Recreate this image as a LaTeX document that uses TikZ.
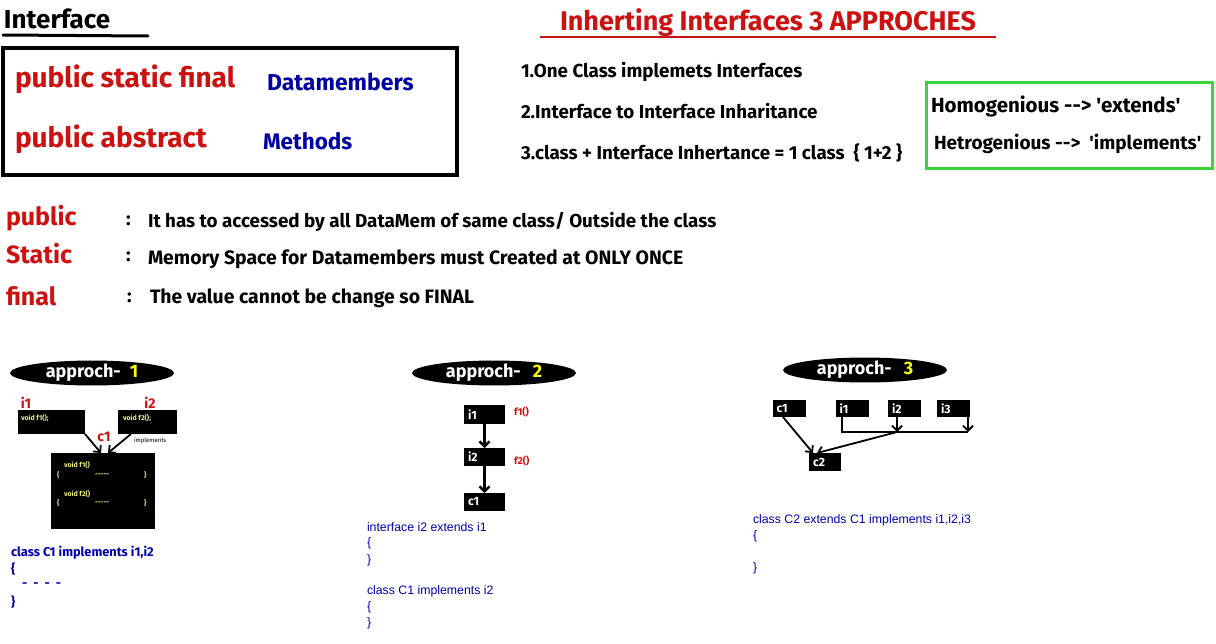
\documentclass[tikz,border=0pt]{standalone}
\usepackage{fontspec}
\setmainfont{Fira Sans}
\newfontfamily\arialf{Liberation Sans}
\usetikzlibrary{shapes.geometric,arrows.meta}
\definecolor{hred}{RGB}{204,17,17}
\definecolor{hblue}{RGB}{0,0,160}
\definecolor{cblue}{RGB}{0,0,170}
\definecolor{hgreen}{RGB}{60,210,60}
\definecolor{pyellow}{RGB}{240,240,130}
\definecolor{byellow}{RGB}{255,255,0}
\newcommand{\fsz}[1]{\fontsize{#1}{#1}\selectfont}
\newcommand{\arrw}{{-}{-}{>}}
\newcommand{\sq}{\textquotesingle}
\begin{document}
\begin{tikzpicture}[x=1pt,y=-1pt,
  every node/.style={inner sep=0pt, outer sep=0pt},
  tw/.style={anchor=west, font=\bfseries\fsz{#1}},
  redt/.style={tw=#1, text=hred},
  bluet/.style={tw=#1, text=hblue},
  blkt/.style={tw=#1, text=black},
  codet/.style={anchor=west, font=\arialf\fsz{12.3}, text=cblue},
  oval/.style={ellipse, fill=black, minimum width=164, minimum height=23, font=\bfseries\fsz{18}},
  bbox/.style={fill=black, text=white, font=\bfseries\fsz{12}, inner xsep=4pt, align=left},
  tiny/.style={anchor=west, font=\bfseries\fsz{7}, text=pyellow},
  arr/.style={line width=1.8pt, -{Straight Barb[length=5pt,width=10pt]}},
  ln/.style={line width=1.8pt}
]
\useasboundingbox[fill=white] (0,0) rectangle (1216,643);

% ---------- Interface box ----------
\node[blkt=26] (ttl) at (4,19) {Interface};
\draw[line width=3pt, line cap=round] (3,35) -- (148,36);
\node[draw=black, line width=4pt, minimum width=454, minimum height=127, anchor=north west] (ibox) at (3,48) {};
\node[redt=28] (psf) at (15,79) {public static final};
\node[bluet=23] (dm) at (267,82) {Datamembers};
\node[redt=28] (pa) at (15,139) {public abstract};
\node[bluet=22.5] (me) at (263,141) {Methods};

% ---------- Title ----------
\node[redt=27] (title) at (560,23) {Inherting Interfaces 3 APPROCHES};
\draw[hred, line width=2pt] (540,37) -- (996,37);
\node[blkt=18.8] (l1) at (521,72) {1.One Class implemets Interfaces};
\node[blkt=18.8] (l2) at (521,111) {2.Interface to Interface Inharitance};
\node[blkt=18.8] (l3) at (521,153) {3.class + Interface Inhertance = 1 class\ \ \{ 1+2 \}};

% ---------- Green box ----------
\node[draw=hgreen, line width=3pt, minimum width=286, minimum height=86, anchor=north west] (gbox) at (926,82) {};
\node[blkt=20.5] (hom) at (931,106) {Homogenious \arrw{} \sq extends\sq};
\node[blkt=19] (het) at (934,144) {Hetrogenious \arrw\ \ \sq implements\sq};

% ---------- Modifiers ----------
\node[redt=25] (pub) at (6,218) {public};
\node[redt=25] (sta) at (6,254) {Static};
\node[redt=25] (fin) at (6,296) {final};
\node[blkt=19] (c1c) at (126,221) {:};
\node[blkt=19] (c2c) at (126,257) {:};
\node[blkt=19] (c3c) at (127,298) {:};
\node[blkt=18.8] (d1) at (148,222) {It has to accessed by all DataMem of same class/ Outside the class};
\node[blkt=19.4] (d2) at (148,259) {Memory Space for Datamembers must Created at ONLY ONCE};
\node[blkt=19.4] (d3) at (150,298) {The value cannot be change so FINAL};

% ---------- Approach 1 ----------
\node[oval] (ov1) at (92,373) {\textcolor{white}{approch-}\hspace{9pt}\textcolor{byellow}{1}};
\node[font=\bfseries\fsz{14}, text=hred] (li1) at (26,403) {i1};
\node[font=\bfseries\fsz{14}, text=hred] (li2) at (150,403) {i2};
\node[fill=black, minimum width=67, minimum height=24, anchor=north west] (a1i1) at (18,410) {};
\node[fill=black, minimum width=59, minimum height=24, anchor=north west] (a1i2) at (118,410) {};
\node[tiny] (t1) at (21,418) {void f1();};
\node[tiny] (t2) at (123,418) {void f2();};
\node[font=\bfseries\fsz{14}, text=hred] (lc1) at (104,437) {c1};
\node[anchor=west, font=\fsz{6}] (impl) at (134,441) {implements};
\node[fill=black, minimum width=104, minimum height=76, anchor=north west] (a1c1) at (51,453) {};
\node[tiny] (t3) at (64,465) {void f1()};
\node[tiny] (t4) at (57,475) {\{};
\node[tiny] (t5) at (95,475) {{-}{-}{-}{-}{-}};
\node[tiny] (t6) at (144,475) {\}};
\node[tiny] (t7) at (64,494) {void f2()};
\node[tiny] (t8) at (57,503) {\{};
\node[tiny] (t9) at (95,503) {{-}{-}{-}{-}{-}};
\node[tiny] (t10) at (144,503) {\}};
\draw[arr] (a1i1.south east) -- ([xshift=-2pt]a1c1.north);
\draw[arr] ([xshift=13pt]a1i2.south west) -- ([xshift=5pt]a1c1.north);
\node[anchor=west, font=\bfseries\fsz{12.8}, text=cblue] (k1) at (11,553) {class C1 implements i1,i2};
\node[anchor=west, font=\bfseries\fsz{12.8}, text=cblue] (k2) at (11,569) {\{};
\node[anchor=west, font=\bfseries\fsz{12.8}, text=cblue] (k3) at (22,585) {-\ \ -\ \ -\ \ -};
\node[anchor=west, font=\bfseries\fsz{12.8}, text=cblue] (k4) at (11,602) {\}};

% ---------- Approach 2 ----------
\node[oval] (ov2) at (494,373) {\textcolor{white}{approch-}\hspace{12pt}\textcolor{byellow}{2}};
\node[bbox, minimum width=41, minimum height=19, text width=33] (b2i1) at (484.5,414.5) {i1};
\node[bbox, minimum width=41, minimum height=18, text width=33] (b2i2) at (484.5,457) {i2};
\node[bbox, minimum width=41, minimum height=18, text width=33] (b2c1) at (484.5,502) {c1};
\node[anchor=west, font=\bfseries\fsz{10}, text=hred] (f1) at (514,412) {f1()};
\node[anchor=west, font=\bfseries\fsz{10}, text=hred] (f2) at (514,461) {f2()};
\draw[arr, line width=2.4pt] (b2i1.south) -- (b2i2.north);
\draw[arr, line width=2.4pt] (b2i2.south) -- (b2c1.north);
\node[codet] (m1) at (367,527) {interface i2 extends i1};
\node[codet] (m2) at (367,543) {\{};
\node[codet] (m3) at (367,560) {\}};
\node[codet] (m4) at (367,591) {class C1 implements i2};
\node[codet] (m5) at (367,607) {\{};
\node[codet] (m6) at (367,623) {\}};

% ---------- Approach 3 ----------
\node[oval] (ov3) at (865,370) {\textcolor{white}{approch-}\hspace{12pt}\textcolor{byellow}{3}};
\node[bbox, minimum width=33, minimum height=17, text width=25] (b3c1) at (789,408.5) {c1};
\node[bbox, minimum width=33, minimum height=17, text width=25] (b3i1) at (852,408.5) {i1};
\node[bbox, minimum width=33, minimum height=17, text width=25] (b3i2) at (904.5,408.5) {i2};
\node[bbox, minimum width=33, minimum height=17, text width=25] (b3i3) at (953.5,408.5) {i3};
\node[bbox, minimum width=32, minimum height=18, text width=24] (b3c2) at (825,462) {c2};
\coordinate (bus1) at (842,432);
\coordinate (bus2) at (897,432);
\coordinate (bus3) at (968,432);
\draw[ln] (842,417) -- (bus1) -- (bus3);
\draw[arr] (897,417) -- (bus2);
\draw[arr] (968,417) -- (bus3);
\draw[arr] (bus2) -- ([xshift=-8pt]b3c2.north);
\draw[arr] ([xshift=-6pt]b3c1.south) -- ([xshift=-12pt]b3c2.north);
\node[codet] (n1) at (753,520) {class C2 extends C1 implements i1,i2,i3};
\node[codet] (n2) at (753,536) {\{};
\node[codet] (n3) at (753,568) {\}};
\end{tikzpicture}
\end{document}
